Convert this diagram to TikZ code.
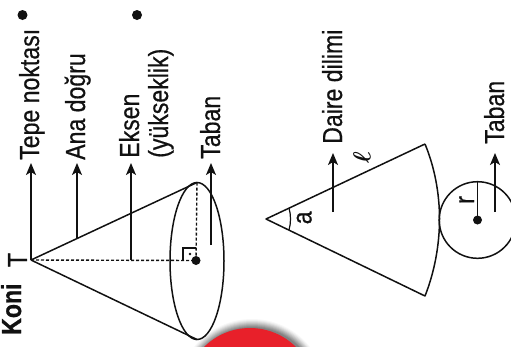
\documentclass[tikz,border=0pt]{standalone}
\usepackage{fontspec}
\setmainfont[BoldFeatures={FakeBold=0.8}]{Liberation Sans}
\newfontfamily\lblface[FakeBold=0.6]{Liberation Sans}
\usetikzlibrary{arrows.meta}
\definecolor{ink}{HTML}{111111}
\definecolor{badge}{HTML}{E8202A}
\newcommand{\cond}[1]{\scalebox{0.84}[1]{#1}}
\tikzset{
  lbl/.style={rotate=90,anchor=base west,inner sep=0pt,font=\lblface\fontsize{27.5}{30}\selectfont,text=ink},
  ln/.style={draw=ink,line width=1.5pt},
  arr/.style={ln,-{Stealth[length=12pt,width=10pt,inset=3pt]}},
  dots/.style={draw=ink,line width=1.4pt,dash pattern=on 3pt off 2pt},
  blob/.style={circle,fill=ink,inner sep=0pt,minimum size=#1}
}
\begin{document}
\begin{tikzpicture}[x=1pt,y=-1pt]
\useasboundingbox (0,0) rectangle (511,346);
% red badge with soft halo
\begin{scope}
\clip (0,0) rectangle (511,346);
\foreach \rr/\oo in {74/.05,73/.07,72/.1,71/.12,70/.15,69/.18,68/.22,67/.28,66/.35}{
  \fill[black!60,opacity=\oo] (252,393) circle[radius=\rr];
}
\fill[badge] (250,393) circle[radius=65];
\end{scope}
% bullets
\node[blob=10pt] (b1) at (22.5,15) {};
\node[blob=10pt] (b2) at (137,15) {};
% cone coordinates
\coordinate (T) at (31,260);
\coordinate (U) at (197,182.5);
\coordinate (D) at (197,339.5);
\coordinate (AnaFoot) at (77,238);
\coordinate (EkFoot) at (131,260);
\coordinate (TbFoot) at (211,245);
\coordinate (TepeTip) at (31,163);
\coordinate (AnaTip) at (77,163);
\coordinate (EkTip) at (131,163);
\coordinate (TbTip) at (211,163);
\node[blob=9pt] (C) at (196,260.5) {};
% cone
\draw[ln] (197,261) ellipse[x radius=27,y radius=78.5];
\draw[ln] (T) -- (U);
\draw[ln] (T) -- (D);
\draw[dots] (T) -- (C.center);
\draw[dots] (C.center) -- (U);
\draw[draw=ink,line width=1.2pt] (183,260) -- (183,248) -- (196,248);
\fill[ink] (190,254) circle[radius=1.3];
% arrows
\draw[arr] (T) -- (TepeTip);
\draw[arr] (AnaFoot) -- (AnaTip);
\draw[arr] (EkFoot) -- (EkTip);
\draw[arr] (TbFoot) -- (TbTip);
% labels left
\node[lbl] (t1) at (39,160) {\cond{Tepe noktası}};
\node[lbl] (t2) at (85,160) {\cond{Ana doğru}};
\node[lbl] (t3) at (139,158) {\cond{Eksen}};
\node[lbl] (t4) at (168,158) {\cond{(yükseklik)}};
\node[lbl] (t5) at (220,159) {\cond{Taban}};
\node[lbl,font=\rmfamily\fontsize{27.5}{30}\selectfont\bfseries] (koni) at (21,335) {\cond{Koni}};
\node[lbl,anchor=base] (tt) at (27,260) {\cond{T}};
% sector
\coordinate (A) at (266,219);
\coordinate (P) at (425,144);
\coordinate (Q) at (425,296);
\draw[ln,line join=round] (P) -- (A) -- (Q) .. controls (434.5,272) and (439.5,245) .. (439.5,219) .. controls (439.5,193) and (434.5,167) .. (P);
\draw[draw=ink,line width=1.2pt] (289,208) .. controls (291,215) and (291,223) .. (289,230);
\node[lbl] (aa) at (311.5,224.5) {\cond{a}};
\coordinate (DdFoot) at (333,212);
\coordinate (DdTip) at (333,153);
\draw[arr] (DdFoot) -- (DdTip);
\node[lbl] (t6) at (342,144) {\cond{Daire dilimi}};
\node[rotate=90,inner sep=0pt,text=ink,font=\fontsize{27}{28}\selectfont\boldmath] (ell) at (362,158) {$\ell$};
% base circle
\node[blob=9pt] (O) at (477.5,220) {};
\coordinate (OT) at (477.5,182);
\draw[ln] (O.center) circle[radius=38.3];
\draw[ln] (O.center) -- (OT);
\node[lbl] (rr) at (474,204) {\cond{r}};
\coordinate (TtFoot) at (495,212);
\coordinate (TtTip) at (495,153);
\draw[arr] (TtFoot) -- (TtTip);
\node[lbl] (t7) at (504,144) {\cond{Taban}};
\end{tikzpicture}
\end{document}
